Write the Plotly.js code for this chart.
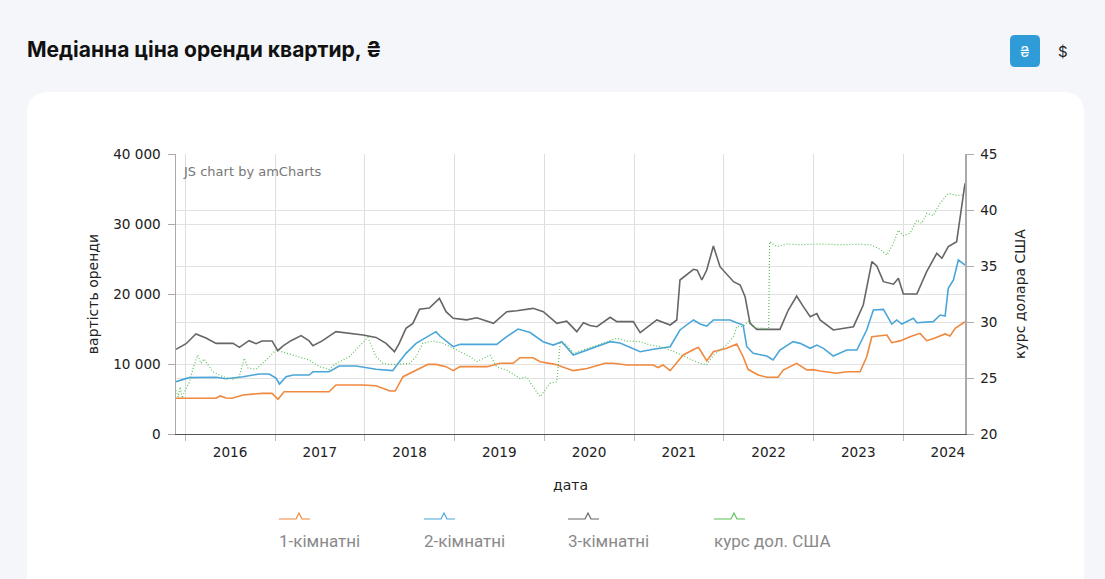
<!DOCTYPE html>
<html>
<head>
<meta charset="utf-8">
<script src="https://cdn.plot.ly/plotly-3.0.1.min.js"></script>
<style>
  html, body { margin: 0; padding: 0; background: #f5f6fa; }
  #chart { width: 1105px; height: 579px; }
</style>
</head>
<body>
<div id="chart"></div>
<script>
// rent medians, UAH (left axis)
var oneRoomDates = ['2015-11-25','2016-05-06','2016-05-22','2016-06-16','2016-07-10','2016-08-24','2016-11-09','2016-12-20','2017-01-13','2017-02-07','2017-08-09','2017-09-06','2017-12-25','2018-02-16','2018-04-14','2018-05-05','2018-06-06','2018-07-29','2018-09-16','2018-10-18','2018-11-28','2018-12-27','2019-01-24','2019-05-14','2019-07-06','2019-08-28','2019-09-25','2019-11-17','2019-12-16','2020-02-15','2020-04-28','2020-06-24','2020-09-05','2020-10-08','2020-12-04','2021-03-20','2021-04-09','2021-04-29','2021-05-28','2021-07-20','2021-09-19','2021-09-27','2021-10-24','2021-11-20','2022-01-13','2022-02-23','2022-03-21','2022-04-10','2022-05-21','2022-06-27','2022-08-10','2022-08-31','2022-10-25','2022-12-05','2022-12-31','2023-01-28','2023-04-06','2023-05-17','2023-07-10','2023-08-06','2023-08-27','2023-10-27','2023-11-16','2023-12-20','2024-01-29','2024-03-10','2024-04-06','2024-05-02','2024-06-20','2024-07-10','2024-07-31','2024-09-09'];
var oneRoom = [5100,5100,5430,5150,5100,5570,5810,5810,4950,6040,6040,7000,7000,6900,6140,6140,8190,9140,9950,9950,9620,9050,9620,9620,10100,10100,10900,10900,10330,9950,9050,9350,10100,10100,9860,9860,9500,9860,9050,11290,12380,12000,10450,11760,12240,12860,11040,9240,8430,8100,8100,9140,10100,9140,9200,9000,8670,8900,8900,11040,13900,14140,13040,13300,13900,14380,13330,13600,14290,14000,15100,16040];

var twoRoomDates = ['2015-11-25','2016-01-17','2016-05-06','2016-06-16','2016-08-24','2016-10-28','2016-12-08','2017-01-05','2017-01-19','2017-02-15','2017-03-16','2017-05-20','2017-06-05','2017-08-09','2017-09-19','2017-11-27','2018-02-16','2018-04-25','2018-05-09','2018-06-18','2018-07-29','2018-10-18','2018-11-03','2018-12-27','2019-01-24','2019-06-22','2019-08-02','2019-09-17','2019-11-05','2019-12-28','2020-02-07','2020-03-13','2020-04-29','2020-06-23','2020-07-18','2020-09-26','2020-11-05','2021-01-26','2021-03-20','2021-05-28','2021-07-07','2021-08-31','2021-09-27','2021-10-24','2021-11-20','2022-01-27','2022-02-23','2022-03-21','2022-04-05','2022-05-01','2022-06-25','2022-07-21','2022-08-18','2022-10-10','2022-11-08','2022-12-19','2023-01-15','2023-02-11','2023-03-23','2023-05-17','2023-06-27','2023-08-06','2023-09-02','2023-10-13','2023-11-16','2023-12-06','2023-12-27','2024-02-12','2024-02-26','2024-05-03','2024-05-31','2024-06-20','2024-07-03','2024-07-24','2024-08-13','2024-09-09'];
var twoRoom = [7470,8050,8100,7900,8190,8570,8570,8000,7140,8190,8430,8430,8900,8900,9710,9710,9240,9050,9710,11520,12950,14620,14000,12470,12810,12810,13900,15000,14500,13190,12710,13190,11290,12000,12300,13190,13000,11760,12100,12470,14860,16290,15710,15430,16290,16290,15900,15570,12470,11520,11140,10570,12000,13190,12950,12240,12700,12240,11140,12000,12000,14860,17710,17800,15710,16290,15710,16520,15900,16050,17000,16860,20810,22000,24860,24140];

var threeRoomDates = ['2015-11-25','2016-01-05','2016-02-14','2016-03-26','2016-05-06','2016-07-14','2016-08-09','2016-09-17','2016-10-16','2016-11-09','2016-12-20','2017-01-12','2017-02-03','2017-03-07','2017-04-17','2017-05-20','2017-06-04','2017-07-12','2017-09-06','2017-10-29','2017-12-25','2018-02-16','2018-03-29','2018-05-02','2018-05-21','2018-06-18','2018-07-16','2018-08-12','2018-09-21','2018-11-01','2018-11-28','2018-12-27','2019-02-20','2019-04-02','2019-06-09','2019-08-02','2019-09-12','2019-11-17','2019-12-29','2020-02-22','2020-04-02','2020-05-13','2020-06-09','2020-07-06','2020-08-03','2020-09-26','2020-10-23','2020-12-29','2021-01-26','2021-04-04','2021-05-28','2021-06-24','2021-07-07','2021-08-31','2021-09-15','2021-10-04','2021-10-24','2021-11-20','2021-12-17','2022-02-10','2022-03-09','2022-03-29','2022-04-18','2022-05-16','2022-08-18','2022-09-21','2022-10-25','2022-11-21','2022-12-19','2023-01-15','2023-01-28','2023-03-23','2023-06-13','2023-07-23','2023-08-27','2023-09-16','2023-10-13','2023-11-23','2023-12-13','2024-01-02','2024-02-26','2024-04-06','2024-05-17','2024-06-07','2024-07-03','2024-08-06','2024-08-20','2024-09-09'];
var threeRoom = [12100,12900,14290,13700,12950,12950,12380,13330,12900,13290,13290,11900,12600,13330,14050,13300,12620,13300,14620,14400,14140,13800,12950,11760,12900,15100,15800,17810,18000,19380,17470,16520,16300,16600,15810,17470,17600,17950,17470,15810,16120,14620,15900,15500,15330,16670,16050,16050,14480,16290,15570,16290,22000,23530,23400,22000,23430,26860,23900,21760,21290,19620,15810,14950,14950,17710,19710,18190,16760,17200,16300,14860,15330,18430,24620,24000,21760,21400,22240,20000,20000,23190,25810,25100,26760,27470,31050,35810];

// USD exchange rate (right axis)
var usdDates = ['2015-11-25','2015-12-04','2015-12-12','2015-12-20','2016-01-01','2016-01-17','2016-02-02','2016-02-21','2016-03-06','2016-03-18','2016-04-22','2016-06-02','2016-07-13','2016-08-08','2016-08-29','2016-09-13','2016-10-16','2016-11-12','2016-12-09','2017-01-05','2017-02-15','2017-03-28','2017-05-21','2017-07-01','2017-08-09','2017-09-06','2017-10-30','2017-12-10','2018-01-14','2018-02-16','2018-03-16','2018-04-25','2018-07-02','2018-07-29','2018-08-25','2018-10-05','2018-11-15','2018-12-14','2019-01-24','2019-03-06','2019-04-02','2019-05-26','2019-06-22','2019-08-02','2019-09-25','2019-10-23','2019-11-17','2019-12-16','2020-01-25','2020-02-22','2020-03-06','2020-04-02','2020-04-29','2020-06-09','2020-07-20','2020-09-12','2020-10-23','2020-12-03','2021-01-26','2021-03-07','2021-04-17','2021-05-28','2021-07-07','2021-08-17','2021-09-27','2021-10-24','2021-11-20','2021-12-17','2022-01-13','2022-02-10','2022-02-23','2022-03-21','2022-04-18','2022-05-01','2022-06-25','2022-07-03','2022-07-07','2022-08-05','2022-09-15','2022-11-08','2023-01-28','2023-04-20','2023-07-10','2023-08-20','2023-09-30','2023-10-27','2023-11-23','2023-12-13','2024-01-02','2024-01-29','2024-02-26','2024-03-17','2024-04-06','2024-05-03','2024-05-31','2024-07-03','2024-08-06','2024-09-03'];
var usdRate = [23.9,23.3,24.2,23.2,23.9,24.55,25.8,27.05,26.3,26.7,25.56,25.12,24.88,25.1,26.76,25.9,25.78,26.3,26.9,27.5,27.2,26.96,26.6,26.0,25.78,26.3,26.9,27.8,28.63,26.9,26.31,26.2,26.3,26.9,28.1,28.3,28.1,27.8,27.35,26.9,26.46,27.05,26.0,25.7,24.97,25.1,24.22,23.33,24.52,24.67,28.1,28.0,27.2,27.5,27.8,28.24,28.54,28.3,28.24,27.95,27.8,27.5,27.1,26.76,26.3,26.2,27.05,27.5,27.95,28.7,29.58,29.6,30.18,29.5,29.44,29.4,37.17,36.73,36.96,36.9,36.96,36.9,36.93,36.9,36.49,35.98,37.03,38.2,37.7,37.92,39.1,38.8,39.7,39.5,40.6,41.49,41.3,41.34];

var seriesNames = ['1-кімнатні', '2-кімнатні', '3-кімнатні', 'курс дол. США'];
var seriesColors = ['#f0883e', '#4aa6d8', '#666666', '#5cc05c'];

// plot box in page pixels
var L = 176, R = 965, T = 154, B = 434;
function px(x) { return (x - L) / (R - L); }
function py(y) { return (B - y) / (B - T); }
function pt(x, y) { return px(x) + ',' + py(y); }
function roundRect(x0, y0, x1, y1, r) {
  return 'M' + pt(x0 + r, y0) + ' L' + pt(x1 - r, y0) + ' Q' + pt(x1, y0) + ' ' + pt(x1, y0 + r) +
    ' L' + pt(x1, y1 - r) + ' Q' + pt(x1, y1) + ' ' + pt(x1 - r, y1) +
    ' L' + pt(x0 + r, y1) + ' Q' + pt(x0, y1) + ' ' + pt(x0, y1 - r) +
    ' L' + pt(x0, y0 + r) + ' Q' + pt(x0, y0) + ' ' + pt(x0 + r, y0) + ' Z';
}

var traces = [
  { x: oneRoomDates, y: oneRoom, name: seriesNames[0], type: 'scatter', mode: 'lines',
    line: { color: seriesColors[0], width: 1.6 } },
  { x: twoRoomDates, y: twoRoom, name: seriesNames[1], type: 'scatter', mode: 'lines',
    line: { color: seriesColors[1], width: 1.6 } },
  { x: threeRoomDates, y: threeRoom, name: seriesNames[2], type: 'scatter', mode: 'lines',
    line: { color: seriesColors[2], width: 1.6 } },
  { x: usdDates, y: usdRate, name: seriesNames[3], type: 'scatter', mode: 'lines', yaxis: 'y2',
    line: { color: seriesColors[3], width: 1.2, dash: '1px,2px' } }
];

var shapes = [
  { type: 'path', xref: 'paper', yref: 'paper', layer: 'below', path: roundRect(27, 92, 1084, 640, 22),
    fillcolor: '#ffffff', line: { width: 0 } },
  { type: 'path', xref: 'paper', yref: 'paper', path: roundRect(1010, 35, 1040, 67, 5),
    fillcolor: '#2f9cd8', line: { width: 0 } }
];
var annotations = [
  { xref: 'paper', yref: 'paper', x: px(181), y: py(171), xanchor: 'left', yanchor: 'middle', showarrow: false,
    text: 'JS chart by amCharts', font: { family: 'DejaVu Sans', size: 13, color: '#777' } },
  { xref: 'paper', yref: 'paper', x: px(1025), y: py(51), xanchor: 'center', yanchor: 'middle', showarrow: false,
    text: '₴', font: { family: 'Inter', size: 15, color: '#ffffff' } },
  { xref: 'paper', yref: 'paper', x: px(1063), y: py(51), xanchor: 'center', yanchor: 'middle', showarrow: false,
    text: '$', font: { family: 'Inter', size: 15, color: '#222' } }
];

// legend: amCharts style, icon above the label
var legendLeft = [279, 424, 568, 714];
for (var i = 0; i < seriesNames.length; i++) {
  var x0 = legendLeft[i];
  shapes.push({ type: 'path', xref: 'paper', yref: 'paper',
    path: 'M' + pt(x0, 519) + ' L' + pt(x0 + 17, 519) + ' L' + pt(x0 + 20, 513) + ' L' + pt(x0 + 23, 519) + ' L' + pt(x0 + 31, 519),
    line: { color: seriesColors[i], width: 1.2 } });
  annotations.push({ xref: 'paper', yref: 'paper', x: px(x0 - 2), y: py(541), xanchor: 'left', yanchor: 'middle',
    showarrow: false, text: seriesNames[i], font: { family: 'Roboto', size: 17, color: '#8a8a8a' } });
}

var tickFont = { family: 'DejaVu Sans', size: 13.6, color: '#222' };
var layout = {
  width: 1105, height: 579,
  margin: { l: L, r: 1105 - R, t: T, b: 579 - B, pad: 0 },
  paper_bgcolor: '#f5f6fa',
  plot_bgcolor: '#ffffff',
  separators: ', ',
  showlegend: false,
  title: { text: '<b>Медіанна ціна оренди квартир, ₴</b>', xref: 'container', yref: 'container',
    x: 27 / 1105, xanchor: 'left', y: 1 - 50 / 579, yanchor: 'middle',
    font: { family: 'Inter', size: 21, color: '#111' } },
  xaxis: {
    type: 'date', range: ['2015-11-25', '2024-09-09'],
    tick0: '2016-01-01', dtick: 'M12', tickformat: '%Y', ticklabelmode: 'period',
    ticks: 'outside', ticklen: 6, tickcolor: '#bbb',
    showgrid: true, gridcolor: '#dedede',
    showline: true, linecolor: '#555', linewidth: 1,
    tickfont: tickFont, automargin: false,
    title: { text: 'дата', font: { family: 'DejaVu Sans', size: 14, color: '#222' }, standoff: 20 }
  },
  yaxis: {
    range: [0, 40000], dtick: 10000, tickformat: ',d',
    ticks: 'outside', ticklen: 7, tickcolor: '#aaa', ticklabelstandoff: 4,
    showgrid: true, gridcolor: '#e2e2e2', zeroline: false,
    showline: true, linecolor: '#aaa', linewidth: 1.5,
    tickfont: tickFont, automargin: false,
    title: { text: 'вартість оренди', font: { family: 'DejaVu Sans', size: 14, color: '#222' }, standoff: 11 }
  },
  yaxis2: {
    overlaying: 'y', side: 'right', range: [20, 45], dtick: 5,
    ticks: 'outside', ticklen: 7, tickcolor: '#aaa', ticklabelstandoff: 4,
    showgrid: true, gridcolor: '#e2e2e2', zeroline: false,
    showline: true, linecolor: '#aaa', linewidth: 1.5,
    tickfont: tickFont, automargin: false,
    title: { text: 'курс долара США', font: { family: 'DejaVu Sans', size: 14, color: '#222' }, standoff: 18 }
  },
  shapes: shapes,
  annotations: annotations
};

Plotly.newPlot('chart', traces, layout, { displayModeBar: false, staticPlot: true });
</script>
</body>
</html>
